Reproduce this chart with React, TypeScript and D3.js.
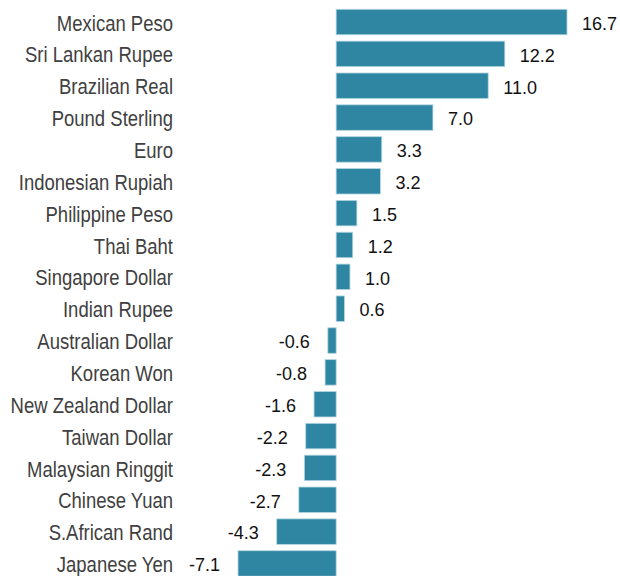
import { useEffect, useRef } from 'react';
import * as d3 from 'd3';

const currencies = [
  'Mexican Peso', 'Sri Lankan Rupee', 'Brazilian Real', 'Pound Sterling', 'Euro',
  'Indonesian Rupiah', 'Philippine Peso', 'Thai Baht', 'Singapore Dollar', 'Indian Rupee',
  'Australian Dollar', 'Korean Won', 'New Zealand Dollar', 'Taiwan Dollar',
  'Malaysian Ringgit', 'Chinese Yuan', 'S.African Rand', 'Japanese Yen',
];
const changes = [16.7, 12.2, 11.0, 7.0, 3.3, 3.2, 1.5, 1.2, 1.0, 0.6, -0.6, -0.8, -1.6, -2.2, -2.3, -2.7, -4.3, -7.1];

const width = 620;
const height = 576;
const barColor = '#2e86a3';
const font = '"Liberation Sans", Arial, sans-serif';

export default function App(): React.JSX.Element {
  const svgRef = useRef<SVGSVGElement>(null);

  useEffect(() => {
    if (!svgRef.current) return;
    const svg = d3.select(svgRef.current);
    svg.selectAll('*').remove();

    const rows = currencies.map((c, i) => ({ label: c, value: changes[i] }));

    const x = d3.scaleLinear()
      .domain([d3.min(changes) ?? 0, d3.max(changes) ?? 0])
      .range([238, 567]);

    const y = d3.scaleBand<string>()
      .domain(currencies)
      .range([6.1, 579.4])
      .paddingInner(0.2)
      .paddingOuter(0.1);

    const mid = (d: { label: string }): number => (y(d.label) ?? 0) + y.bandwidth() / 2;

    // bars
    svg.append('g')
      .selectAll('rect')
      .data(rows)
      .join('rect')
      .attr('x', d => x(Math.min(0, d.value)))
      .attr('y', d => y(d.label) ?? 0)
      .attr('width', d => Math.abs(x(d.value) - x(0)))
      .attr('height', y.bandwidth())
      .attr('fill', barColor)
      .attr('stroke', '#b4d6e1')
      .attr('stroke-width', 0.8);

    // category labels (glyphs a bit taller than wide in the original)
    svg.append('g')
      .selectAll('text')
      .data(rows)
      .join('text')
      .attr('transform', d => `translate(173,${mid(d) + 8.6}) scale(1,1.17)`)
      .attr('text-anchor', 'end')
      .attr('fill', '#404040')
      .attr('font-family', font)
      .attr('font-size', 18.5)
      .text(d => d.label);

    // value labels
    svg.append('g')
      .selectAll('text')
      .data(rows)
      .join('text')
      .attr('x', d => d.value >= 0 ? x(d.value) + 15 : x(d.value) - 18)
      .attr('y', d => mid(d) + 7.8)
      .attr('text-anchor', d => d.value >= 0 ? 'start' : 'end')
      .attr('fill', '#111')
      .attr('font-family', font)
      .attr('font-size', 18)
      .text(d => d.value.toFixed(1));
  }, []);

  return (
    <div style={{ position: 'absolute', left: 0, top: 0 }}>
      <svg ref={svgRef} width={width} height={height} style={{ display: 'block', background: '#fff' }} />
    </div>
  );
}
